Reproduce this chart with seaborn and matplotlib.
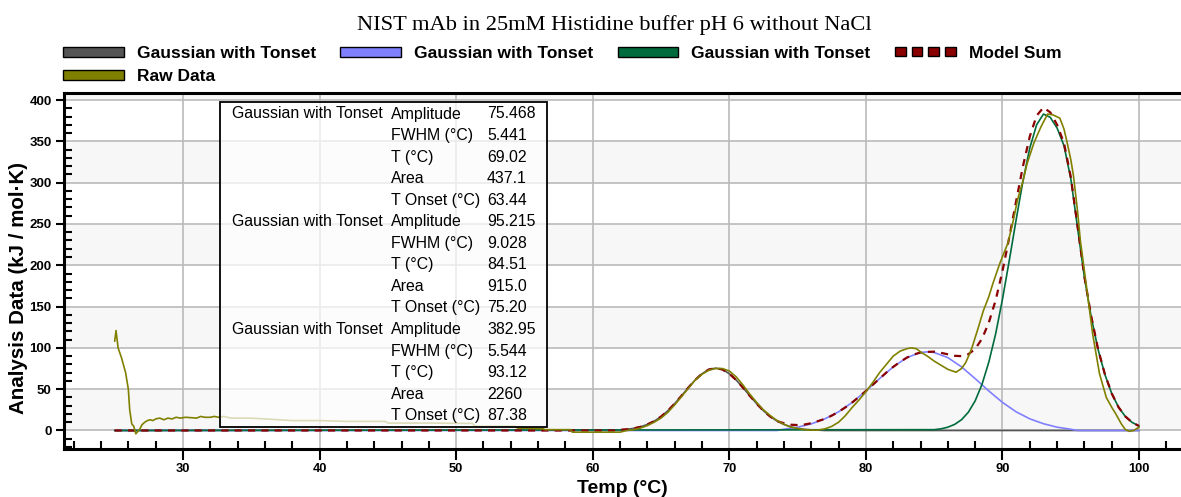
import numpy as np
import pandas as pd
import matplotlib
matplotlib.use("Agg")
import matplotlib.pyplot as plt
import matplotlib.patches as mpatches
from matplotlib.legend_handler import HandlerBase
from matplotlib.ticker import MultipleLocator
import seaborn as sns

# ---------------- data ----------------
title = "NIST mAb in 25mM Histidine buffer pH 6 without NaCl"
series_names = ["Gaussian with Tonset", "Gaussian with Tonset", "Gaussian with Tonset",
                "Model Sum", "Raw Data"]
x_label = "Temp (°C)"
y_label = "Analysis Data (kJ / mol·K)"
x_ticks = [30, 40, 50, 60, 70, 80, 90, 100]
x_tick_labels = ["30", "40", "50", "60", "70", "80", "90", "100"]
y_ticks = [0, 50, 100, 150, 200, 250, 300, 350, 400]
y_tick_labels = ["0", "50", "100", "150", "200", "250", "300", "350", "400"]

g1_x = [25, 62, 62.5, 63, 63.5, 64, 64.5, 65, 65.5, 66, 66.5, 67, 67.5, 68, 68.5, 69,
        69.5, 70, 70.5, 71, 71.5, 72, 72.5, 73, 73.5, 74, 74.5, 75, 75.5, 76, 76.5, 77, 100]
g1_y = [0, 0.8, 1.4, 2.6, 4.4, 7.3, 11.3, 16.8, 23.9, 32.5, 42.0, 51.9, 61.1, 68.7, 73.8, 75.5,
        73.8, 68.7, 61.1, 51.9, 42.0, 32.5, 23.9, 16.8, 11.3, 7.3, 4.4, 2.6, 1.4, 0.8, 0.4, 0, 0]

g2_x = [25, 73.5, 74, 75, 76, 77, 78, 79, 80, 81, 82, 83, 84, 84.5, 85, 86, 87, 88, 89, 90,
        91, 92, 93, 94, 95, 95.5, 100]
g2_y = [0, 0, 1.5, 4.0, 8.0, 14.1, 22.6, 34.0, 47.8, 62.8, 77.0, 88.2, 94.4, 95.2, 94.4, 88.2,
        77.0, 62.8, 47.8, 34.0, 22.6, 14.1, 8.2, 4.0, 1.5, 0, 0]

g3_x = [25, 85, 85.5, 86, 86.5, 87, 87.5, 88, 88.5, 89, 89.5, 90, 90.5, 91, 91.5, 92, 92.5,
        93, 93.5, 94, 94.5, 95, 95.5, 96, 96.5, 97, 97.5, 98, 98.5, 99, 99.5, 100]
g3_y = [0, 1.0, 2.0, 4.0, 7.4, 13.0, 22.1, 35.9, 55.8, 82.8, 117, 159, 206, 255, 302, 342, 370,
        383, 379, 366, 345, 305, 245, 185, 137, 98, 67.7, 44.7, 28.1, 16.9, 9.7, 5.4]

sum_x = [25, 61.5, 62, 62.5, 63, 63.5, 64, 64.5, 65, 65.5, 66, 66.5, 67, 67.5, 68, 68.5, 69,
         69.5, 70, 70.5, 71, 71.5, 72, 72.5, 73, 73.5, 74, 74.5, 75, 75.5, 76, 76.5, 77,
         77.5, 78, 78.5, 79, 79.5, 80, 80.5, 81, 81.5, 82, 82.5, 83, 83.5, 84, 84.5, 85,
         85.5, 86, 86.5, 87, 87.5, 88, 88.5, 89, 89.5, 90, 90.5, 91, 91.5, 92, 92.5, 93,
         93.5, 94, 94.5, 95, 95.5, 96, 96.5, 97, 97.5, 98, 98.5, 99, 99.5, 100]
sum_y = [0, 0, 0.8, 1.4, 2.6, 4.4, 7.3, 11.3, 16.8, 23.9, 32.5, 42.0, 51.9, 61.1, 68.7, 73.8, 75.5,
         73.8, 68.7, 61.1, 51.9, 42.0, 32.5, 23.9, 16.8, 11.3, 8.8, 7.0, 6.6, 7.2, 8.8, 11.4, 14.1,
         18.0, 22.6, 28.0, 34.0, 40.7, 47.8, 55.3, 62.8, 70.2, 77.0, 83.0, 88.2, 92.0, 94.4, 95.2, 95.4,
         94.0, 92.2, 90.4, 90.0, 92.3, 98.7, 111, 130.6, 157.7, 193, 234, 277.6, 320, 356, 381, 391,
         385, 370, 348, 307, 247, 186, 138, 98.3, 68, 44.8, 28.1, 16.9, 9.7, 5.4]

raw_x = [25.0, 25.1, 25.25, 25.5, 25.8, 26.0, 26.1, 26.25, 26.4, 26.55, 26.7, 26.85, 27.0, 27.2,
         27.4, 27.6, 27.8, 28.0, 28.3, 28.6, 28.9, 29.2, 29.5, 29.8, 30.2, 30.6, 31.0, 31.3, 31.6,
         32.0, 32.3, 32.6, 33.0, 33.5, 35, 36, 37, 38, 40, 42, 44.8, 45, 48, 51.2, 51.4, 54.3, 54.5,
         56.4, 56.5, 58.4, 58.5, 62, 62.5, 63, 63.5, 64, 64.5, 65, 65.5, 66, 66.5, 67, 67.5, 68,
         68.5, 69, 69.5, 70, 70.5, 71, 71.5, 72, 72.5, 73, 73.5, 74, 74.5, 75, 75.5, 76, 76.5, 77,
         77.5, 78, 78.5, 79, 79.5, 80, 80.5, 81, 81.5, 82, 82.5, 83, 83.3, 83.7, 84, 84.5, 85,
         85.5, 86, 86.6, 87, 87.3, 87.6, 87.8, 88.2, 88.6, 89, 89.3, 89.8, 90.4, 90.8, 91.1, 91.5,
         91.8, 92.3, 92.8, 93.3, 93.7, 94.2, 94.5, 94.7, 95.0, 95.2, 95.5, 95.7, 96.2, 96.6, 97.1,
         97.6, 98.0, 98.3, 98.7, 99.0, 99.3, 99.6, 100]
raw_y = [108, 121, 100, 88, 70, 50, 25, 8, 5, -4, -1, 2, 7, 10,
         12, 13, 12, 14, 15, 13, 15, 14, 16, 15, 16, 15.5, 15, 17, 16,
         16, 17, 16, 17, 15, 15, 14, 13, 12, 12, 11, 11, 9, 9, 8.5, 5, 5, 3,
         2, 1, 1, -2, -2, 0, 1, 3, 6, 10, 15, 22, 31, 41, 51, 61, 68,
         73, 75, 75, 72, 65, 55, 44, 34, 25, 18, 12, 7.5, 4, 2.5, 1, 0.5, 0.5, 2,
         5, 10, 18, 28, 37, 47, 58, 70, 80, 90, 96, 99, 100, 99, 95, 90, 84,
         79, 74, 70.5, 75, 82, 93, 102, 123, 145, 162, 178, 202, 227, 255, 279, 302,
         323, 348, 367, 383, 382, 378, 365, 351, 328, 308, 265, 230, 168, 117, 69,
         40, 28, 20, 8, 1, -1, 0, 4]

fit_names = ["Gaussian with Tonset", "Gaussian with Tonset", "Gaussian with Tonset"]
param_names = ["Amplitude", "FWHM (°C)", "T (°C)", "Area", "T Onset (°C)"]
fit_values = [["75.468", "5.441", "69.02", "437.1", "63.44"],
              ["95.215", "9.028", "84.51", "915.0", "75.20"],
              ["382.95", "5.544", "93.12", "2260", "87.38"]]

series_colors = ["#555555", "#8080ff", "#006b3c", "#8b0000", "#808000"]

# ---------------- style ----------------
sns.set_style("white")
plt.rcParams['font.family'] = ['Liberation Sans', 'DejaVu Sans']
plt.rcParams['text.color'] = 'black'
plt.rcParams['axes.labelcolor'] = 'black'
plt.rcParams['xtick.color'] = 'black'
plt.rcParams['ytick.color'] = 'black'

W, H = 1181, 497
fig = plt.figure(figsize=(W / 100, H / 100), dpi=100)
AX_L, AX_R, AX_T, AX_B = 64, 1181, 92.5, 449
ax = fig.add_axes([AX_L / W, 1 - AX_B / H, (AX_R - AX_L) / W, (AX_B - AX_T) / H])

ax.set_xlim(21.29, 103.07)
ax.set_ylim(-22.4, 409.1)

# alternating bands
for y0 in y_ticks[::2]:
    ax.axhspan(y0, y0 + 50, color="#f7f7f7", zorder=0, lw=0)

ax.set_axisbelow(True)
ax.grid(True, which="major", color="#bababa", lw=1.2)

frames = [(g1_x, g1_y), (g2_x, g2_y), (g3_x, g3_y), (sum_x, sum_y), (raw_x, raw_y)]
zs = [2, 2.1, 2.2, 2.3, 2.4]
for (xs, ys), col, z in zip(frames, series_colors, zs):
    df = pd.DataFrame({"x": xs, "y": ys})
    sns.lineplot(data=df, x="x", y="y", ax=ax, color=col, lw=1.2, estimator=None,
                 sort=False, zorder=z)
model_line = ax.lines[3]
model_line.set_linewidth(1.6)
model_line.set_dashes((3.2, 2.8))

# ticks
ax.set_xticks(x_ticks)
ax.set_xticklabels(x_tick_labels)
ax.set_yticks(y_ticks)
ax.set_yticklabels(y_tick_labels)
ax.xaxis.set_minor_locator(MultipleLocator(2))
ax.yaxis.set_minor_locator(MultipleLocator(10))
ax.tick_params(axis="x", which="major", direction="out", length=8, width=1.5,
               labelsize=9.3, pad=2, bottom=True)
ax.tick_params(axis="x", which="minor", direction="in", length=6, width=1.5, bottom=True)
ax.tick_params(axis="y", which="major", direction="out", length=6, width=1.5,
               labelsize=9.5, pad=3, left=True)
ax.tick_params(axis="y", which="minor", direction="in", length=6, width=1.5, left=True)
for lab in ax.get_xticklabels() + ax.get_yticklabels():
    lab.set_fontweight("bold")

for s in ["left", "top", "bottom"]:
    ax.spines[s].set_visible(True)
    ax.spines[s].set_color("black")
    ax.spines[s].set_linewidth(2.2)
ax.spines["right"].set_visible(False)

ax.set_xlabel(x_label, fontsize=14, fontweight="bold", labelpad=4)
ax.set_ylabel(y_label, fontsize=14.8, fontweight="bold")
ax.yaxis.set_label_coords((28 - AX_L) / (AX_R - AX_L), (AX_B - 288) / (AX_B - AX_T))

fig.text(614 / W, 1 - 30 / H, title, family="Liberation Serif", fontsize=16.2,
         ha="center", va="baseline")

# ---------------- parameter table ----------------
def axx(px):
    return (px - AX_L) / (AX_R - AX_L)

def axy(py):
    return (AX_B - py) / (AX_B - AX_T)

box = mpatches.Rectangle((axx(220), axy(427)), axx(547) - axx(220), axy(102) - axy(427),
                         transform=ax.transAxes, facecolor=(1, 1, 1, 0.72),
                         edgecolor="black", lw=1.3, zorder=6)
ax.add_patch(box)
row = 0
for name, vals in zip(fit_names, fit_values):
    for j, (pn, v) in enumerate(zip(param_names, vals)):
        py = 114 + 21.55 * row
        if j == 0:
            ax.text(axx(232), axy(py), name, transform=ax.transAxes, fontsize=11.4,
                    va="center", ha="left", zorder=7)
        ax.text(axx(391), axy(py), pn, transform=ax.transAxes, fontsize=11.4,
                va="center", ha="left", zorder=7)
        ax.text(axx(487), axy(py), v, transform=ax.transAxes, fontsize=11.4,
                va="center", ha="left", zorder=7)
        row += 1

# ---------------- legend ----------------
class DashedPatchHandler(HandlerBase):
    def create_artists(self, legend, orig_handle, xdescent, ydescent, width, height,
                       fontsize, trans):
        n = 4
        gap = width * 0.1
        w = (width - gap * (n - 1)) / n
        arts = []
        for i in range(n):
            r = mpatches.Rectangle((-xdescent + i * (w + gap), -ydescent + height * 0.1),
                                   w, height * 0.85,
                                   facecolor=orig_handle.get_facecolor(),
                                   edgecolor="black", lw=1.0, transform=trans)
            arts.append(r)
        return arts

class DashedPatch(mpatches.Patch):
    pass

handles = []
for i, col in enumerate(series_colors):
    if i == 3:
        handles.append(DashedPatch(facecolor=col, edgecolor="black", lw=1.0))
    else:
        handles.append(mpatches.Patch(facecolor=col, edgecolor="black", lw=1.0))

order = [0, 4, 1, 2, 3]
leg = fig.legend([handles[i] for i in order], [series_names[i] for i in order],
                 loc="upper left", bbox_to_anchor=(63 / W, 1 - 46 / H), ncol=4,
                 frameon=False, prop={"weight": "bold", "size": 12.5},
                 handlelength=3.5, handleheight=0.5, handletextpad=0.75,
                 columnspacing=1.4, borderpad=0, borderaxespad=0, labelspacing=0.47,
                 handler_map={DashedPatch: DashedPatchHandler()})

fig.savefig("out.png", dpi=100)
